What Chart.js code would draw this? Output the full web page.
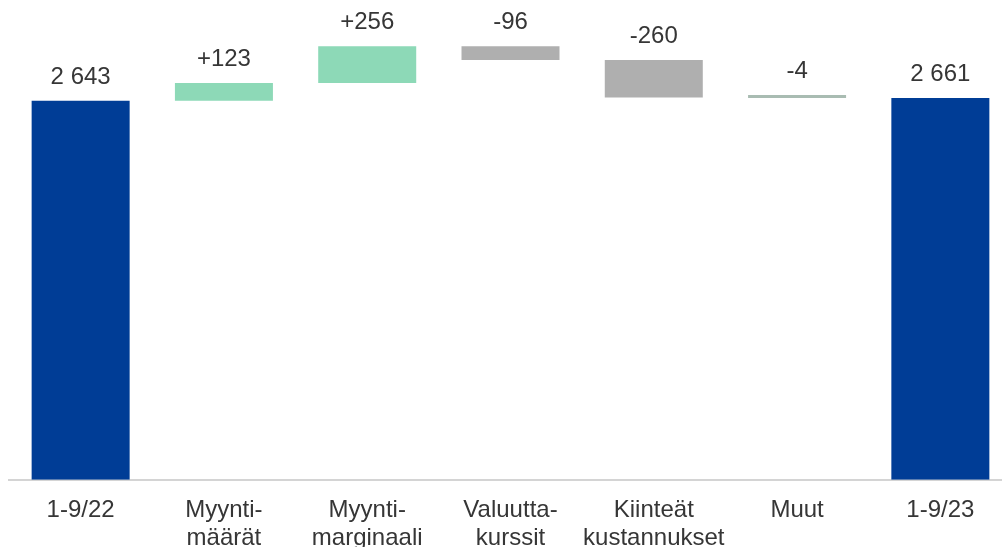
<!DOCTYPE html>
<html>
<head>
<meta charset="utf-8">
<script src="https://cdn.jsdelivr.net/npm/chart.js@4"></script>
<style>
  html, body { margin: 0; padding: 0; background: #ffffff; overflow: hidden; width: 1002px; height: 547px; }
  #wrap { width: 1012px; height: 561px; }
</style>
</head>
<body>
<div id="wrap"><canvas id="c" width="1012" height="561"></canvas></div>
<script>
// Data
const categories = [["1-9/22"], ["Myynti-", "määrät"], ["Myynti-", "marginaali"], ["Valuutta-", "kurssit"], ["Kiinteät", "kustannukset"], ["Muut"], ["1-9/23"]];
const startValue = 2643;
const changes = [123, 256, -96, -260, -4];
const endValue = 2661;
const valueLabels = ["2 643", "+123", "+256", "-96", "-260", "-4", "2 661"];

// Build floating bars
const floating = [[0, startValue]];
let running = startValue;
changes.forEach(function (d) {
  floating.push([running, running + d]);
  running += d;
});
floating.push([0, endValue]);

const BLUE = '#003d96', GREEN = '#8dd9b7', GREY = '#afafaf', MIXED = '#a9bcb2';
const colors = floating.map(function (f, i) {
  if (i === 0 || i === floating.length - 1) return BLUE;
  if (i === floating.length - 2) return MIXED;
  return (f[1] >= f[0]) ? GREEN : GREY;
});

const labelPlugin = {
  id: 'valueLabels',
  afterDatasetsDraw(chart) {
    const ctx = chart.ctx;
    const meta = chart.getDatasetMeta(0);
    ctx.save();
    ctx.font = '24px "Liberation Sans", Arial, sans-serif';
    ctx.fillStyle = '#363636';
    ctx.textAlign = 'center';
    ctx.textBaseline = 'alphabetic';
    meta.data.forEach(function (bar, i) {
      const top = Math.min(bar.y, bar.base);
      ctx.fillText(valueLabels[i], bar.x, top - 17);
    });
    ctx.restore();
  }
};

new Chart(document.getElementById('c'), {
  type: 'bar',
  data: {
    labels: categories,
    datasets: [{
      data: floating,
      backgroundColor: colors,
      borderWidth: 0,
      borderSkipped: false,
      minBarLength: 3,
      categoryPercentage: 1.0,
      barPercentage: 0.684
    }]
  },
  options: {
    responsive: false,
    animation: false,
    devicePixelRatio: 1,
    layout: { padding: { left: 9, right: 0, top: 0, bottom: 0 } },
    plugins: { legend: { display: false }, tooltip: { enabled: false } },
    scales: {
      x: {
        grid: { display: false },
        border: { display: true, color: '#d4d4d4', width: 2 },
        ticks: {
          color: '#363636',
          padding: 9,
          maxRotation: 0,
          autoSkip: false,
          font: { family: '"Liberation Sans", Arial, sans-serif', size: 24, lineHeight: 1.15 }
        }
      },
      y: {
        display: false,
        min: 0,
        max: 3345
      }
    }
  },
  plugins: [labelPlugin]
});
</script>
</body>
</html>
